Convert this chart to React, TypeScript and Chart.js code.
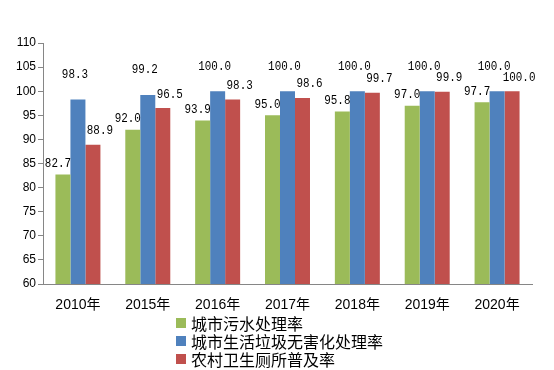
import React, { useEffect, useRef } from "react";
import { Chart, registerables } from "chart.js";

Chart.register(...registerables);

const categories = ["2010年", "2015年", "2016年", "2017年", "2018年", "2019年", "2020年"];
const seriesNames = ["城市污水处理率", "城市生活垃圾无害化处理率", "农村卫生厕所普及率"];
const sewageRate = [82.7, 92.0, 93.9, 95.0, 95.8, 97.0, 97.7];
const garbageRate = [98.3, 99.2, 100.0, 100.0, 100.0, 100.0, 100.0];
const toiletRate = [88.9, 96.5, 98.3, 98.6, 99.7, 99.9, 100.0];
const colors = ["#9BBB59", "#4F81BD", "#C0504D"];

const labelDx = [-5, -3, 7];
const labelDy = [11, 25, 14];

const dataLabelPlugin = {
  id: "dataLabels",
  afterDatasetsDraw(chart: any) {
    const ctx = chart.ctx;
    ctx.save();
    ctx.font = "13px 'Liberation Mono', monospace";
    ctx.fillStyle = "#000";
    ctx.textAlign = "center";
    ctx.textBaseline = "middle";
    const sx = 0.84;
    chart.data.datasets.forEach((ds: any, di: number) => {
      const meta = chart.getDatasetMeta(di);
      meta.data.forEach((el: any, i: number) => {
        const v = ds.data[i] as number;
        const x = el.x + labelDx[di];
        const y = el.y - labelDy[di];
        ctx.save();
        ctx.translate(x, y);
        ctx.scale(sx, 1);
        ctx.fillText(v.toFixed(1), 0, 0);
        ctx.restore();
      });
    });
    ctx.restore();
  },
};

export default function App() {
  const ref = useRef<HTMLCanvasElement>(null);
  useEffect(() => {
    const series = [sewageRate, garbageRate, toiletRate];
    const chart = new Chart(ref.current as HTMLCanvasElement, {
      type: "bar",
      data: {
        labels: categories,
        datasets: series.map((d, i) => ({
          label: seriesNames[i],
          data: d,
          backgroundColor: colors[i],
          borderWidth: 0,
          barPercentage: 1,
          categoryPercentage: 0.644,
        })),
      },
      options: {
        animation: false,
        responsive: false,
        devicePixelRatio: 1,
        layout: { padding: { top: 43, right: 22, left: 0, bottom: 0 } },
        plugins: { legend: { display: false }, tooltip: { enabled: false } },
        scales: {
          x: {
            grid: { display: false, drawTicks: false },
            border: { display: true, color: "#868686", width: 1 },
            ticks: {
              color: "#000",
              padding: 13,
              font: { family: "'Liberation Sans', 'Noto Sans CJK SC'", size: 14 },
              maxRotation: 0,
            },
            afterFit(scale: any) {
              scale.height = 86;
            },
          },
          y: {
            min: 60,
            max: 110,
            grid: {
              drawOnChartArea: false,
              drawTicks: true,
              tickLength: 5,
              color: "#868686",
            },
            border: { display: true, color: "#868686", width: 1 },
            ticks: {
              stepSize: 5,
              color: "#000",
              padding: 2,
              font: { family: "'Liberation Sans'", size: 12 },
            },
            afterFit(scale: any) {
              scale.width = 43;
            },
          },
        },
      },
      plugins: [dataLabelPlugin],
    });
    return () => chart.destroy();
  }, []);

  return (
    <div style={{ position: "absolute", left: 0, top: 0, width: 554, height: 370, background: "#fff" }}>
      <canvas ref={ref} width={554} height={370} style={{ display: "block" }} />
      <div
        style={{
          position: "absolute",
          left: 176,
          top: 314,
          fontFamily: "'Noto Sans CJK SC', sans-serif",
          fontSize: 16,
          color: "#000",
        }}
      >
        {seriesNames.map((n, i) => (
          <div key={n} style={{ display: "flex", alignItems: "center", height: 18, lineHeight: "18px" }}>
            <span style={{ width: 10, height: 10, background: colors[i], display: "inline-block", marginRight: 5 }} />
            <span>{n}</span>
          </div>
        ))}
      </div>
    </div>
  );
}
